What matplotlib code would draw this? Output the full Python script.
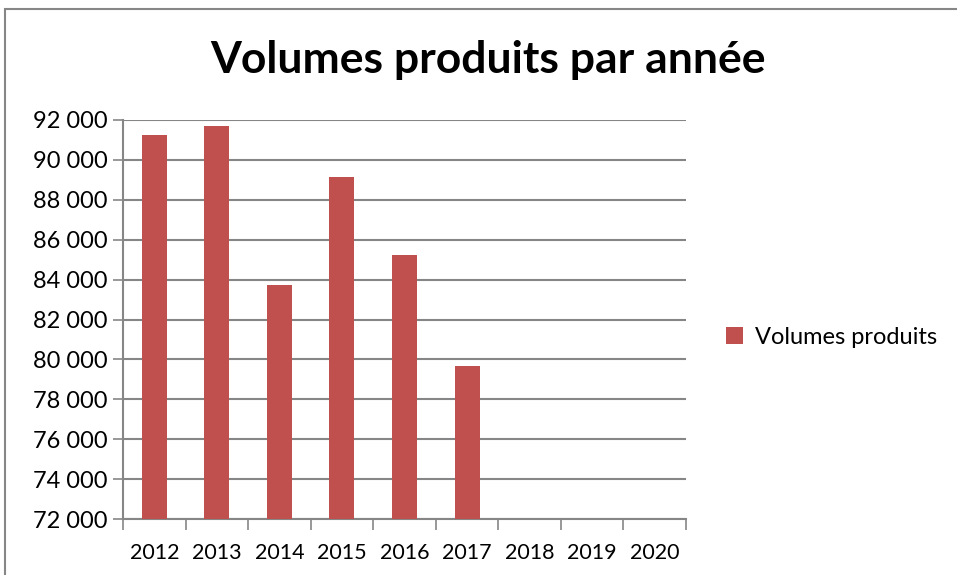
import numpy as np
import matplotlib.pyplot as plt
from matplotlib.patches import Rectangle
from matplotlib.ticker import FuncFormatter

years = ["2012", "2013", "2014", "2015", "2016", "2017", "2018", "2019", "2020"]
volumes = [91250, 91700, 83750, 89150, 85250, 79650, np.nan, np.nan, np.nan]
series_name = "Volumes produits"
title = "Volumes produits par année"

plt.rcParams['font.family'] = ['Lato', 'DejaVu Sans']

fig = plt.figure(figsize=(9.57, 5.75), dpi=100)
ax = fig.add_axes([123/957, 56/575, 563/957, 399/575])

x = np.arange(len(years))
ax.bar(x, volumes, width=0.4, color='#C0504D', label=series_name, zorder=3)

ax.set_xlim(-0.5, len(years) - 0.5)
ax.set_ylim(72000, 92000)
ax.set_yticks(np.arange(72000, 92001, 2000))
ax.yaxis.set_major_formatter(FuncFormatter(lambda v, p: f"{int(v):,}".replace(",", " ")))
ax.grid(axis='y', color='#868686', linewidth=1.5, zorder=0)

# category ticks on boundaries, labels centred
ax.set_xticks(np.arange(-0.5, len(years) + 0.5, 1))
ax.set_xticklabels([])
ax.set_xticks(x, minor=True)
ax.set_xticklabels(years, minor=True)
ax.tick_params(axis='x', which='major', length=8, width=1.2, color='#868686', direction='out')
ax.tick_params(axis='x', which='minor', length=0, pad=17, labelsize=15.5)
ax.tick_params(axis='y', length=7, width=1.2, color='#868686', labelsize=17, pad=4)

for s in ['top', 'right']:
    ax.spines[s].set_visible(False)
for s in ['left', 'bottom']:
    ax.spines[s].set_color('#868686')
    ax.spines[s].set_linewidth(1.5)

fig.text(488/957, 1 - 60/575, title, ha='center', va='center', fontsize=32, fontweight='bold')

fig.legend(loc='center left', bbox_to_anchor=(705/957, 1 - 337/575), frameon=False,
           fontsize=17, handlelength=0.7, handleheight=0.7, handletextpad=0.5)

# outer chart frame
fig.patches.append(Rectangle((4.5/957, -0.1), 2, (575 - 9)/575 + 0.1, transform=fig.transFigure,
                             fill=False, edgecolor='#868686', linewidth=1.5))

fig.savefig("out.png", dpi=100)
